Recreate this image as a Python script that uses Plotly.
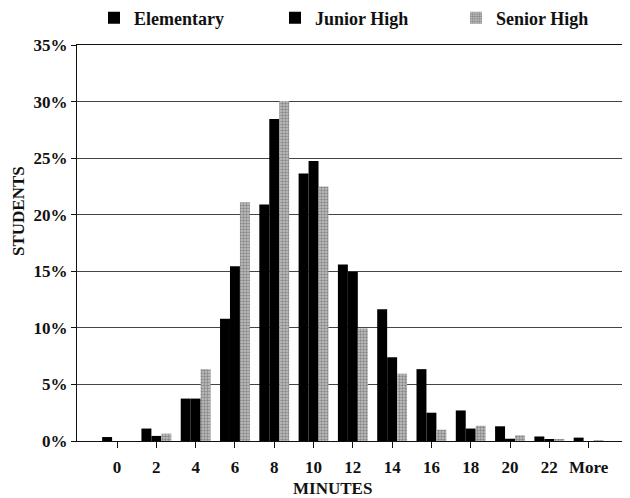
import plotly.graph_objects as go

minutes = ["0", "2", "4", "6", "8", "10", "12", "14", "16", "18", "20", "22", "More"]
elementary = [0.35, 1.1, 3.75, 10.8, 20.9, 23.65, 15.6, 11.65, 6.35, 2.7, 1.3, 0.4, 0.3]
junior_high = [0.0, 0.45, 3.75, 15.45, 28.45, 24.75, 14.95, 7.4, 2.5, 1.1, 0.2, 0.15, 0.0]
senior_high = [0.0, 0.65, 6.35, 21.1, 30.05, 22.5, 9.95, 5.95, 1.0, 1.35, 0.5, 0.1, 0.05]
y_ticks = [0, 5, 10, 15, 20, 25, 30, 35]
y_tick_labels = ["0%", "5%", "10%", "15%", "20%", "25%", "30%", "35%"]

FONT = "Liberation Serif, Times New Roman, serif"

# page body has an 8px margin; figure is sized so it fits the 630x498 window
fig = go.Figure()
fig.add_trace(go.Bar(name="Elementary", x=minutes, y=elementary,
                     marker=dict(color="#000000", line=dict(width=0))))
fig.add_trace(go.Bar(name="Junior High", x=minutes, y=junior_high,
                     marker=dict(color="#000000", line=dict(width=0))))
fig.add_trace(go.Bar(name="Senior High", x=minutes, y=senior_high,
                     marker=dict(color="#a8a8a8", line=dict(width=0),
                                 pattern=dict(shape=".", bgcolor="#c4c4c4",
                                              fgcolor="#4a4a4a", size=3, solidity=0.5))))

fig.update_layout(
    width=622, height=490,
    margin=dict(l=69, r=8, t=37, b=57, autoexpand=False),
    paper_bgcolor="white", plot_bgcolor="white",
    barmode="group", bargap=0.24, bargroupgap=0,
    font=dict(family=FONT, color="#111111"),
    showlegend=True,
    legend=dict(orientation="h", x=(94 - 77) / 545, xref="paper", xanchor="left",
                y=1 + (37 - 10) / 396, yref="paper", yanchor="middle",
                entrywidth=136, entrywidthmode="pixels",
                font=dict(family=FONT, size=18, color="#111111", weight="bold"),
                itemclick=False, itemdoubleclick=False, tracegroupgap=0),
    xaxis=dict(type="category", range=[-1.02, 12.85],
               showline=True, linecolor="#111111", linewidth=1, mirror=True,
               ticks="outside", ticklen=6, tickcolor="#111111",
               tickfont=dict(family=FONT, size=17, color="#111111", weight="bold"),
               ticklabelstandoff=5, showgrid=False, zeroline=False),
    yaxis=dict(range=[0, 35], tickvals=y_ticks, ticktext=y_tick_labels,
               showline=True, linecolor="#111111", linewidth=1, mirror=True,
               ticks="outside", ticklen=5, tickcolor="#111111",
               tickfont=dict(family=FONT, size=17, color="#111111", weight="bold"),
               showgrid=True, gridcolor="#444444", gridwidth=1, zeroline=False),
    annotations=[
        dict(text="<b>MINUTES</b>", xref="paper", yref="paper", x=(332 - 77) / 545, y=(441 - 488) / 396,
             showarrow=False, xanchor="center", yanchor="middle",
             font=dict(family=FONT, size=17, color="#111111")),
        dict(text="<b>STUDENTS</b>", xref="paper", yref="paper", x=(18 - 77) / 545, y=(441 - 211) / 396,
             showarrow=False, xanchor="center", yanchor="middle", textangle=-90,
             font=dict(family=FONT, size=17, color="#111111")),
    ],
)

fig.write_html("out.html")
